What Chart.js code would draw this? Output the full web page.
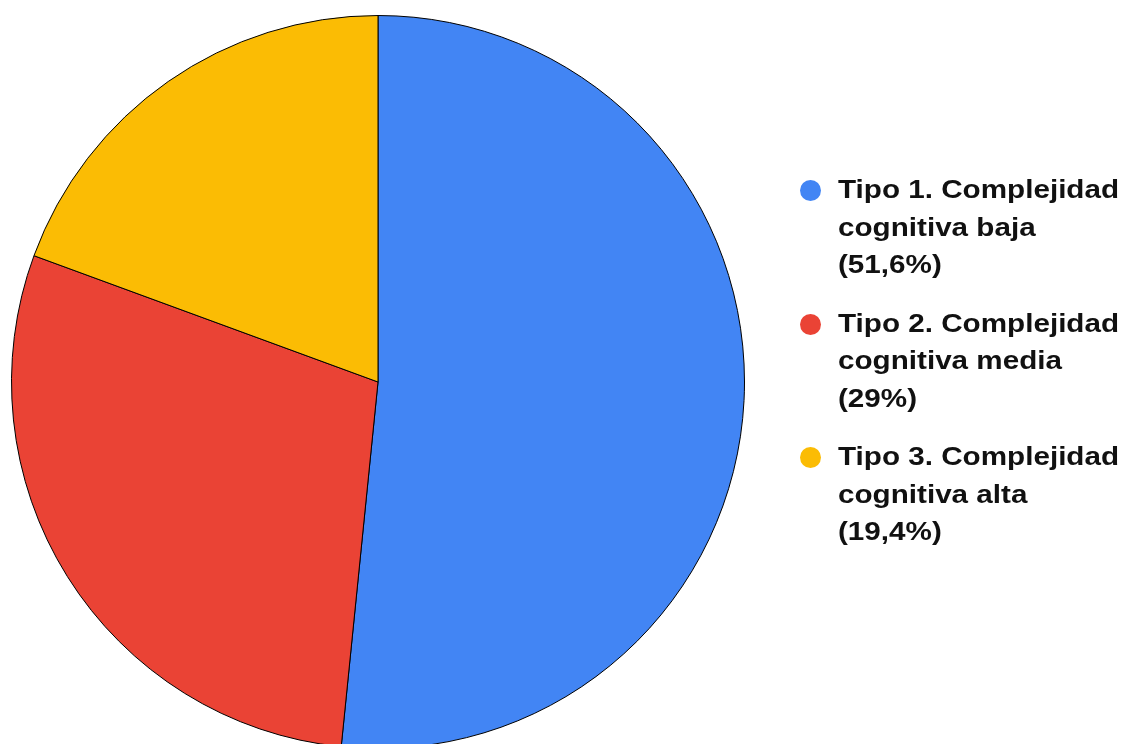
<!DOCTYPE html>
<html>
<head>
<meta charset="utf-8">
<script src="https://cdn.jsdelivr.net/npm/chart.js@4.4.1/dist/chart.umd.min.js"></script>
<style>
  html, body { margin: 0; padding: 0; background: #fff; overflow: hidden; width: 1126px; height: 744px; }
  #wrap { position: absolute; left: 0; top: 0; width: 1126px; height: 760px; }
  #legend { position: absolute; left: 800px; top: 171px; font-family: "Liberation Sans", Arial, sans-serif; font-weight: bold; font-size: 26px; color: #111; }
  .item { position: relative; padding-left: 38px; line-height: 37.5px; margin-bottom: 21px; white-space: nowrap; }
  .txt { transform: scaleX(1.14); transform-origin: 0 0; }
  .dot { position: absolute; left: 0px; top: 9px; width: 21px; height: 21px; border-radius: 50%; }
</style>
</head>
<body>
<div id="wrap"><canvas id="c"></canvas></div>
<div id="legend"></div>
<script>
const categories = ['Tipo 1. Complejidad cognitiva baja', 'Tipo 2. Complejidad cognitiva media', 'Tipo 3. Complejidad cognitiva alta'];
const legendFirstLines = ['Tipo 1. Complejidad', 'Tipo 2. Complejidad', 'Tipo 3. Complejidad'];
const legendSecondLines = ['cognitiva baja', 'cognitiva media', 'cognitiva alta'];
const percentLabels = ['(51,6%)', '(29%)', '(19,4%)'];
const values = [51.6, 29, 19.4];
const colors = ['#4285F4', '#EA4335', '#FBBC04'];

const legend = document.getElementById('legend');
categories.forEach((c, i) => {
  const item = document.createElement('div');
  item.className = 'item';
  const dot = document.createElement('span');
  dot.className = 'dot';
  dot.style.background = colors[i];
  item.appendChild(dot);
  const txt = document.createElement('div');
  txt.className = 'txt';
  [legendFirstLines[i], legendSecondLines[i], percentLabels[i]].forEach(t => {
    const d = document.createElement('div');
    d.textContent = t;
    txt.appendChild(d);
  });
  item.appendChild(txt);
  legend.appendChild(item);
});

new Chart(document.getElementById('c'), {
  type: 'pie',
  data: {
    labels: categories,
    datasets: [{
      data: values,
      backgroundColor: colors,
      borderColor: '#000',
      borderWidth: 1
    }]
  },
  options: {
    responsive: true,
    maintainAspectRatio: false,
    animation: false,
    layout: { padding: { left: 11, top: 15, right: 381, bottom: 11 } },
    plugins: { legend: { display: false }, tooltip: { enabled: false } }
  }
});
</script>
</body>
</html>
